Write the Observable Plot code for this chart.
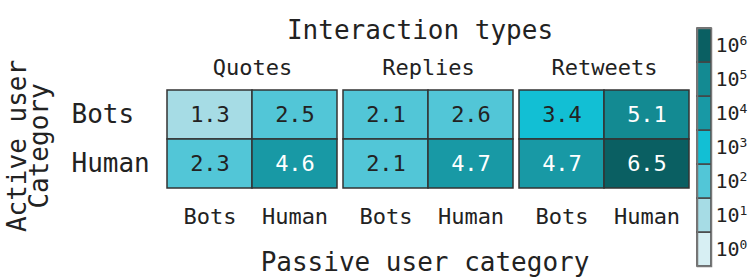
<!DOCTYPE html>
<html><head><meta charset="utf-8">
<script src="https://cdn.jsdelivr.net/npm/d3@7"></script>
<script src="https://cdn.jsdelivr.net/npm/@observablehq/plot@0.6"></script>
<style>
html,body{margin:0;padding:0;background:#fff;}
#wrap{position:relative;width:748px;height:279px;overflow:hidden;}
#wrap svg{position:absolute;top:0;overflow:visible;}
</style></head>
<body><div id="wrap"></div>
<script>
const types = ["Quotes", "Replies", "Retweets"];
const activeCats = ["Bots", "Human"];
const passiveCats = ["Bots", "Human"];
// log10 counts: [active][passive]
const quotesVals = [[1.3, 2.5], [2.3, 4.6]];
const repliesVals = [[2.1, 2.6], [2.1, 4.7]];
const retweetsVals = [[3.4, 5.1], [4.7, 6.5]];
const binEdges = [1, 2, 3, 4, 5, 6];
const binColors = ["#d7eff3", "#a6dce5", "#52c6d7", "#12bfd4", "#1899a5", "#138a92", "#0a5f62"];
const exponents = [0, 1, 2, 3, 4, 5, 6];
const titleText = "Interaction types";
const xLabelText = "Passive user category";
const yLabelLines = ["Active user", "Category"];

const allVals = {Quotes: quotesVals, Replies: repliesVals, Retweets: retweetsVals};
const table = [];
for (const t of types) activeCats.forEach((a, i) => passiveCats.forEach((p, j) => table.push({type: t, active: a, passive: p, value: allVals[t][i][j]})));

const font = "DejaVu Sans Mono";
const colorScale = {type: "threshold", domain: binEdges, range: binColors};

const main = Plot.plot({
  width: 748, height: 279,
  marginLeft: 166, marginRight: 58, marginTop: 90, marginBottom: 91,
  style: {fontFamily: font, color: "#222", background: "transparent"},
  fx: {domain: types, padding: 0.035},
  x: {domain: passiveCats, padding: 0},
  y: {domain: activeCats, padding: 0},
  color: colorScale,
  marks: [
    Plot.cell(table, {fx: "type", x: "passive", y: "active", fill: "value", stroke: "#333", strokeWidth: 1.5}),
    Plot.text(table.filter(d => d.value < 4), {fx: "type", x: "passive", y: "active", text: d => d.value.toFixed(1), fill: "#222", fontSize: 22}),
    Plot.text(table.filter(d => d.value >= 4), {fx: "type", x: "passive", y: "active", text: d => d.value.toFixed(1), fill: "#fff", fontSize: 22}),
    Plot.axisFx({anchor: "top", tickSize: 0, tickPadding: 16, fontSize: 22, label: null}),
    Plot.axisX({anchor: "bottom", tickSize: 0, tickPadding: 20, fontSize: 22, label: null}),
    Plot.axisY({anchor: "left", tickSize: 0, tickPadding: 96, textAnchor: "start", fontSize: 26, label: null})
  ]
});

const svg = d3.select(main);
const txt = (x, y, s, rot) => svg.append("text")
  .attr("transform", `translate(${x},${y})` + (rot ? ` rotate(${rot})` : ""))
  .attr("text-anchor", "middle").attr("font-size", 26).attr("font-family", font).attr("fill", "#222").text(s);
txt(420, 39, titleText);
txt(425, 271, xLabelText);
txt(26, 146, yLabelLines[0], -90);
txt(48, 146, yLabelLines[1], -90);

const bins = exponents.map(e => ({e, v: e + 0.5}));
const bar = Plot.plot({
  width: 58, height: 279,
  marginLeft: 7, marginRight: 37, marginTop: 28, marginBottom: 13,
  style: {fontFamily: font, color: "#222", background: "transparent", overflow: "visible"},
  y: {domain: exponents.slice().reverse(), padding: 0},
  color: colorScale,
  marks: [
    Plot.cell(bins, {y: "e", fill: "v", stroke: "#444", strokeWidth: 1.5}),
    Plot.frame({stroke: "#777", strokeWidth: 1.5}),
    Plot.axisY({anchor: "right", tickSize: 0, tickPadding: 4, fontSize: 20, label: null, tickFormat: e => "10^" + e})
  ]
});
// render exponent as superscript
d3.select(bar).selectAll("text").each(function () {
  const t = this.textContent;
  if (!t.startsWith("10^")) return;
  const exp = t.slice(3);
  const el = d3.select(this);
  el.text("10");
  el.append("tspan").attr("font-size", 13).attr("dy", "-0.55em").text(exp);
});
bar.style.left = "690px";
main.style.left = "0px";
document.getElementById("wrap").append(main, bar);
</script></body></html>
